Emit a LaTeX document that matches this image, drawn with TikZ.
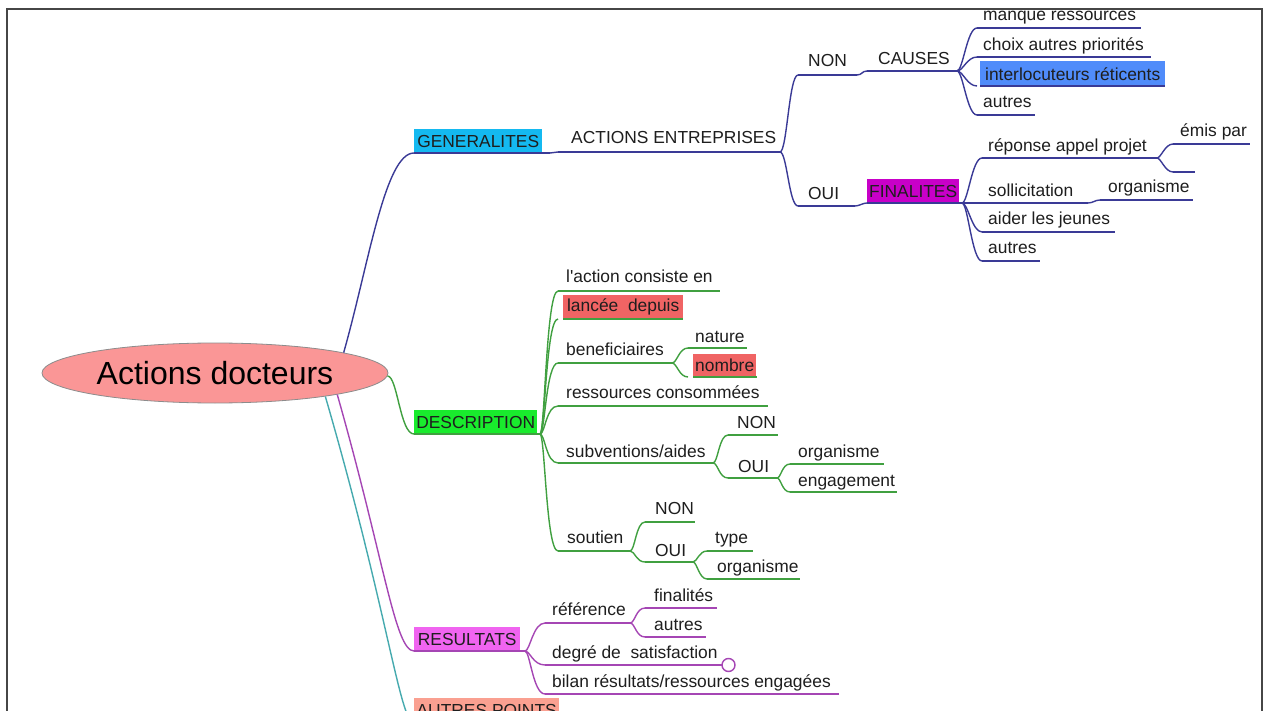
\documentclass[tikz,border=0pt]{standalone}
\usepackage{fontspec}
\setmainfont{Liberation Sans}
\usetikzlibrary{calc,shapes.geometric}
\definecolor{gcol}{RGB}{58,58,150}
\definecolor{dcol}{RGB}{64,160,64}
\definecolor{rcol}{RGB}{165,70,180}
\definecolor{acol}{RGB}{70,170,175}
\definecolor{txt}{RGB}{30,30,30}
\definecolor{ellf}{RGB}{250,150,150}
\definecolor{ellb}{RGB}{140,140,140}
\definecolor{fgen}{RGB}{20,185,240}
\definecolor{fir}{RGB}{80,140,250}
\definecolor{ffin}{RGB}{200,0,200}
\definecolor{fdesc}{RGB}{25,235,45}
\definecolor{fred}{RGB}{240,100,100}
\definecolor{fres}{RGB}{240,100,240}
\definecolor{faut}{RGB}{250,160,145}
\definecolor{framec}{RGB}{70,70,70}
\newcommand\mmfont{\fontsize{17.4}{20}\selectfont}
\newcommand\mmleaf[8]{%
  \node[lbl] (#1) at (#3,#4) {#8};
  \coordinate (#1-s) at (#5,#7);
  \coordinate (#1-e) at (#6,#7);
  \draw[#2] (#1-s) -- (#1-e);}
\newcommand\mmbox[9]{%
  \node[hbox, fill=#3, minimum width=#6, minimum height=#7] (#1) at (#4,#5) {#9};
  \coordinate (#1-s) at (#4,#5+#7);
  \coordinate (#1-e) at (#8,#5+#7);
  \draw[#2] (#1-s) -- (#1-e);}
\tikzset{
  lbl/.style={inner sep=0pt, anchor=base west, text=txt, font=\mmfont},
  hbox/.style={inner sep=0pt, anchor=north west, text=txt, font=\mmfont},
  gl/.style={draw=gcol, line width=1.4pt},
  dl/.style={draw=dcol, line width=1.4pt},
  rl/.style={draw=rcol, line width=1.4pt},
  al/.style={draw=acol, line width=1.4pt},
  mm/.style 2 args={to path={.. controls ($(\tikztostart)+(#1,0)$) and ($(\tikztotarget)-(#2,0)$) .. (\tikztotarget)}},
}
\begin{document}
\begin{tikzpicture}[x=1pt,y=-1pt]
\useasboundingbox (0,0) rectangle (1266,711);
\clip (0,0) rectangle (1266,711);
\fill[white] (0,0) rectangle (1266,711);
\draw[framec, line width=2pt] (7,720) -- (7,9) -- (1262,9) -- (1262,720);

% root
\node[ellipse, draw=ellb, line width=0.8pt, fill=ellf, minimum width=346, minimum height=60, inner sep=0pt,
      font=\fontsize{32}{36}\selectfont, text=black] (root) at (215,373) {Actions docteurs};

% ---------------- GENERALITES ----------------
\mmbox{gen}{gl}{fgen}{414}{129}{128}{24}{550}{GENERALITES}
\mmleaf{ae}{gl}{571}{144}{558}{780}{152}{ACTIONS ENTREPRISES}
\mmleaf{non1}{gl}{808}{67}{798}{857}{75}{NON}
\mmleaf{oui1}{gl}{808}{200}{798}{855}{206}{OUI}
\mmleaf{causes}{gl}{878}{65}{867}{957}{71}{CAUSES}
\mmleaf{mr}{gl}{983}{21}{977}{1141}{28}{manque ressources}
\mmleaf{cap}{gl}{983}{51}{977}{1151}{57}{choix autres priorités}
\mmbox{ir}{gl}{fir}{980}{61}{185}{25}{1165}{interlocuteurs réticents}
\coordinate (ir-s) at (977,86);
\mmleaf{aut1}{gl}{983}{108}{977}{1035}{115}{autres}
\mmbox{fin}{gl}{ffin}{867}{179}{92}{24}{962}{FINALITES}
\mmleaf{rap}{gl}{988}{152}{982}{1157}{158}{réponse appel projet}
\mmleaf{emis}{gl}{1180}{137}{1173}{1250}{144}{émis par}
\coordinate (blk-s) at (1173,172);
\coordinate (blk-e) at (1195,172);
\draw[gl] (blk-s) -- (blk-e);
\mmleaf{sol}{gl}{988}{197}{982}{1088}{203}{sollicitation}
\mmleaf{org1}{gl}{1108}{193}{1100}{1193}{200}{organisme}
\mmleaf{aid}{gl}{988}{225}{982}{1115}{232}{aider les jeunes}
\mmleaf{aut2}{gl}{988}{254}{982}{1040}{261}{autres}

\draw[gl] (root.9) .. controls +(25,-88) and +(-29,0) .. (gen-s);
\draw[gl] (gen-e) to[mm={4}{4}] (ae-s);
\draw[gl] (ae-e) to[mm={7}{9}] (non1-s);
\draw[gl] (ae-e) to[mm={7}{9}] (oui1-s);
\draw[gl] (non1-e) to[mm={5}{5}] (causes-s);
\draw[gl] (oui1-e) to[mm={4}{4}] (fin-s);
\foreach \c in {mr,cap,ir,aut1} \draw[gl] (causes-e) to[mm={6}{10}] (\c-s);
\foreach \c in {rap,sol,aid,aut2} \draw[gl] (fin-e) to[mm={6}{10}] (\c-s);
\draw[gl] (rap-e) to[mm={4}{8}] (emis-s);
\draw[gl] (rap-e) to[mm={4}{8}] (blk-s);
\draw[gl] (sol-e) to[mm={5}{5}] (org1-s);

% ---------------- DESCRIPTION ----------------
\mmbox{desc}{dl}{fdesc}{414}{410}{123}{24}{540}{DESCRIPTION}
\mmleaf{act}{dl}{566}{283}{558}{720}{291}{l\textquotesingle action consiste en}
\mmbox{lan}{dl}{fred}{563}{295}{120}{24}{683}{lancée\ \ depuis}
\coordinate (lan-s) at (558,319);
\mmleaf{ben}{dl}{566}{355}{558}{672}{363}{beneficiaires}
\mmleaf{nat}{dl}{695}{342}{688}{747}{348}{nature}
\mmbox{nom}{dl}{fred}{693}{354}{63}{23}{757}{nombre}
\coordinate (nom-s) at (688,377);
\mmleaf{res}{dl}{566}{398}{558}{768}{406}{ressources consommées}
\mmleaf{sub}{dl}{566}{457}{558}{713}{463}{subventions/aides}
\mmleaf{non2}{dl}{737}{428}{728}{778}{435}{NON}
\mmleaf{oui2}{dl}{738}{472}{728}{777}{478}{OUI}
\mmleaf{org2}{dl}{798}{457}{790}{884}{464}{organisme}
\mmleaf{eng}{dl}{798}{486}{790}{897}{492}{engagement}
\mmleaf{sou}{dl}{567}{543}{558}{630}{551}{soutien}
\mmleaf{non3}{dl}{655}{514}{645}{695}{522}{NON}
\mmleaf{oui3}{dl}{655}{556}{645}{693}{562}{OUI}
\mmleaf{typ}{dl}{715}{543}{707}{753}{551}{type}
\mmleaf{org3}{dl}{717}{572}{707}{800}{579}{organisme}

\draw[dl] (root.-1) .. controls +(10,0) and +(-14,0) .. (desc-s);
\foreach \c in {act,lan,ben,res,sub,sou} \draw[dl] (desc-e) to[mm={5}{12}] (\c-s);
\draw[dl] (ben-e) to[mm={5}{9}] (nat-s);
\draw[dl] (ben-e) to[mm={5}{9}] (nom-s);
\draw[dl] (sub-e) to[mm={5}{9}] (non2-s);
\draw[dl] (sub-e) to[mm={5}{9}] (oui2-s);
\draw[dl] (oui2-e) to[mm={4}{8}] (org2-s);
\draw[dl] (oui2-e) to[mm={4}{8}] (eng-s);
\draw[dl] (sou-e) to[mm={5}{9}] (non3-s);
\draw[dl] (sou-e) to[mm={5}{9}] (oui3-s);
\draw[dl] (oui3-e) to[mm={4}{8}] (typ-s);
\draw[dl] (oui3-e) to[mm={4}{8}] (org3-s);

% ---------------- RESULTATS ----------------
\mmbox{resu}{rl}{fres}{414}{627}{106}{24}{525}{RESULTATS}
\mmleaf{ref}{rl}{552}{615}{545}{630}{623}{référence}
\mmleaf{fina}{rl}{654}{601}{645}{717}{608}{finalités}
\mmleaf{aut3}{rl}{654}{630}{645}{706}{637}{autres}
\mmleaf{deg}{rl}{552}{658}{545}{722}{665}{degré de\ \ satisfaction}
\node[circle, draw=rcol, line width=1.4pt, fill=white, minimum size=13, inner sep=0pt] (degc) at (728.5,665) {};
\mmleaf{bil}{rl}{552}{687}{545}{839}{694}{bilan résultats/ressources engagées}

\draw[rl] (root.-10.5) .. controls +(47,165) and +(-19,0) .. (resu-s);
\foreach \c in {ref,deg,bil} \draw[rl] (resu-e) to[mm={5}{12}] (\c-s);
\draw[rl] (ref-e) to[mm={5}{9}] (fina-s);
\draw[rl] (ref-e) to[mm={5}{9}] (aut3-s);

% ---------------- AUTRES POINTS ----------------
\mmbox{autp}{al}{faut}{414}{698}{145}{25}{600}{AUTRES POINTS}
\draw[al] (root.-12.4) .. controls +(62,213) and +(-14,0) .. (autp-s);
\end{tikzpicture}
\end{document}
